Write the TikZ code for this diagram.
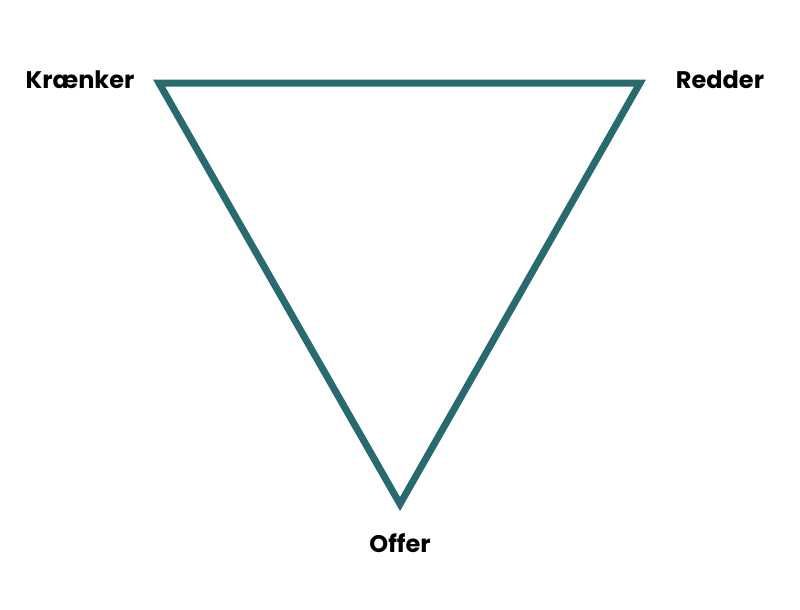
\documentclass[tikz,border=0pt]{standalone}
\usepackage{fontspec}
\setmainfont{Poppins}
\usetikzlibrary{positioning}
\definecolor{teal}{HTML}{276B6E}
\begin{document}
\begin{tikzpicture}[x=1pt,y=-1pt,lbl/.style={font=\bfseries\fontsize{24}{28}\selectfont,inner sep=0pt},side/.style={draw=teal,line width=7pt,miter limit=10}]
\useasboundingbox (0,0) rectangle (800,610);
\coordinate (k) at (159,83);
\coordinate (r) at (640,83);
\coordinate (o) at (400,504);
\draw[side] (k) -- (r) -- (o) -- cycle;
\node[lbl] (kr) at (80,80) {Krænker};
\node[lbl] (re) at (720,80) {Redder};
\node[lbl] (of) at (400,543) {Offer};
\end{tikzpicture}
\end{document}
